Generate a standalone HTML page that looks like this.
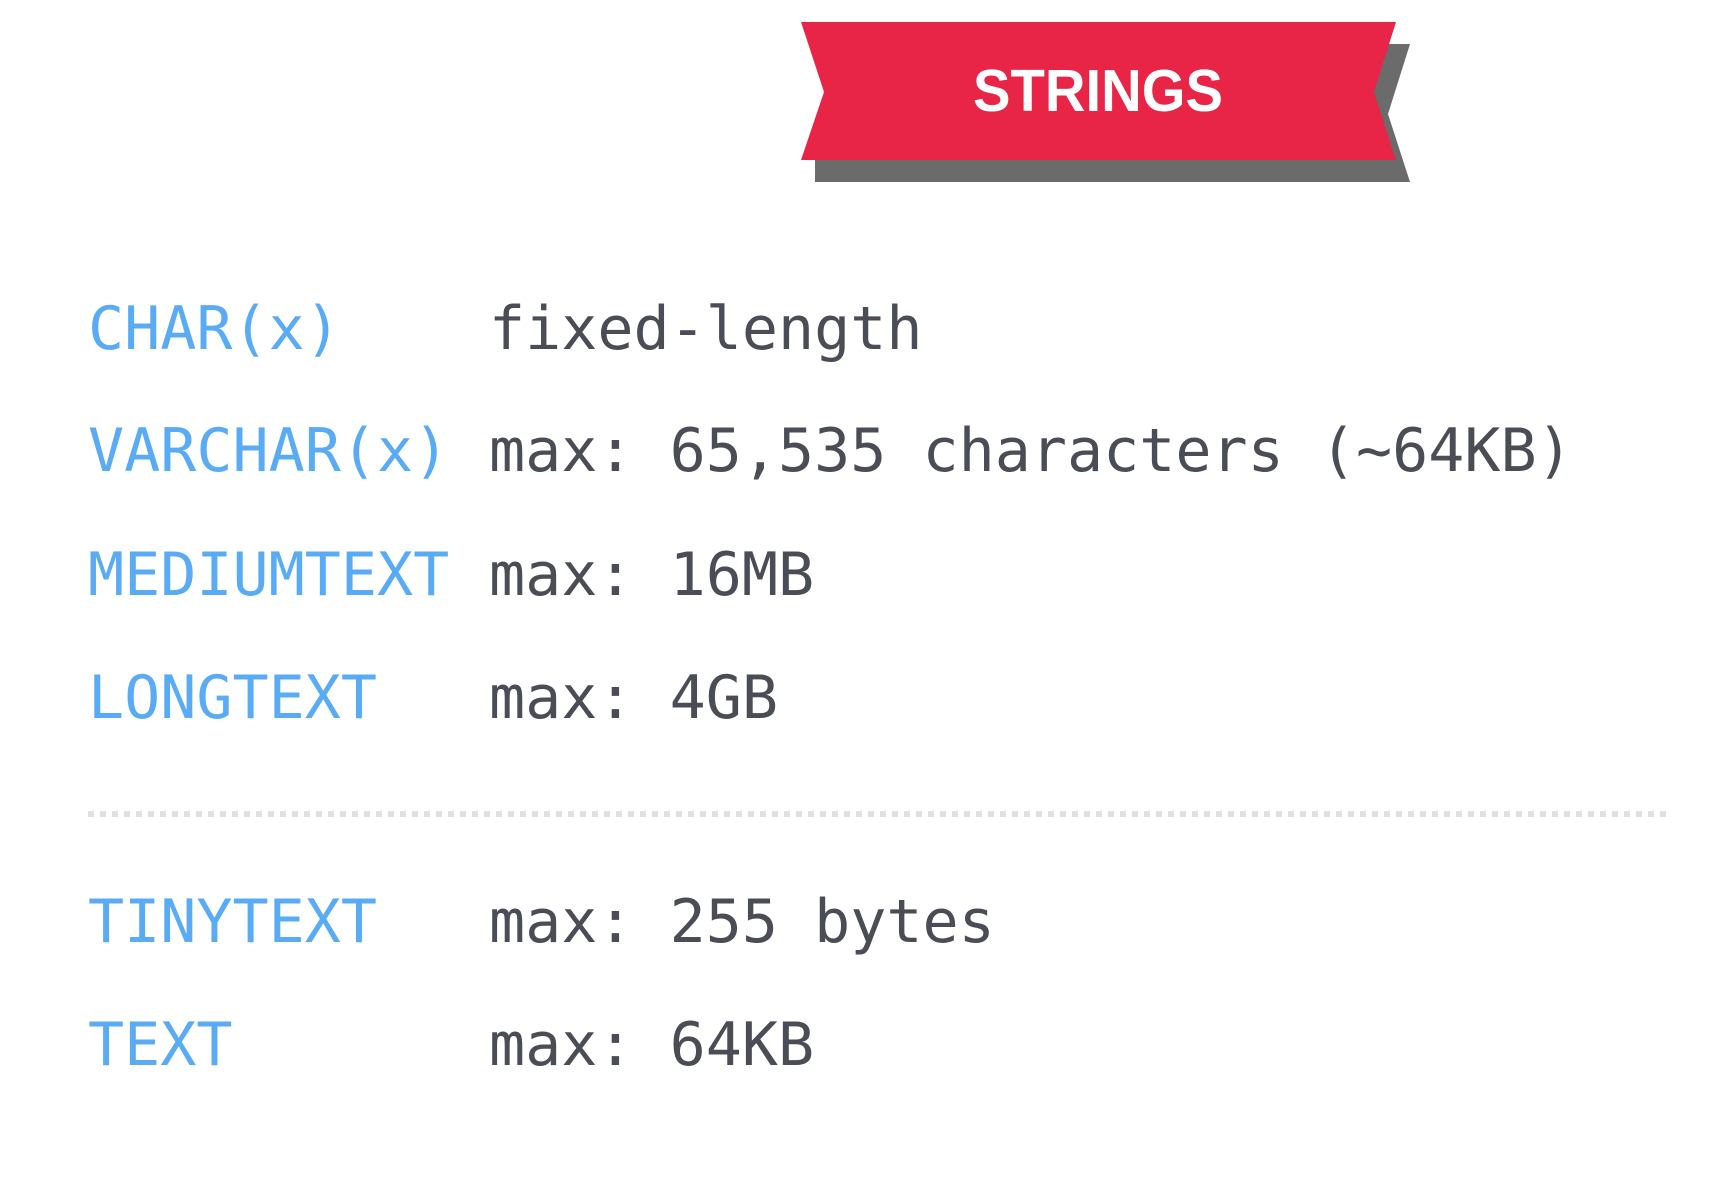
<!DOCTYPE html>
<html><head><meta charset="utf-8"><style>
html,body{margin:0;padding:0;background:#fff;}
svg{display:block}
</style></head><body>
<svg width="1722" height="1188" viewBox="0 0 1722 1188" xmlns="http://www.w3.org/2000/svg">
<polygon points="1380,44 1410,44 1388,114 1410,182 815,182 815,158" fill="#6b6b6b"/>
<polygon points="801,22 1396,22 1374,92 1396,160 801,160 824,92" fill="#e82546"/>
<text x="1098" y="111" text-anchor="middle" font-family="Liberation Sans, sans-serif" font-weight="bold" font-size="59" fill="#fff" textLength="250" lengthAdjust="spacingAndGlyphs">STRINGS</text>
<g font-family="DejaVu Sans Mono, Liberation Mono, monospace" font-size="60">
<g fill="#5aabf5">
<text x="88" y="349">CHAR(x)</text>
<text x="88" y="471">VARCHAR(x)</text>
<text x="88" y="595">MEDIUMTEXT</text>
<text x="88" y="718">LONGTEXT</text>
<text x="88" y="942">TINYTEXT</text>
<text x="88" y="1065">TEXT</text>
</g>
<g fill="#4a4d55">
<text x="489" y="349">fixed-length</text>
<text x="489" y="471">max: 65,535 characters (~64KB)</text>
<text x="489" y="595">max: 16MB</text>
<text x="489" y="718">max: 4GB</text>
<text x="489" y="942">max: 255 bytes</text>
<text x="489" y="1065">max: 64KB</text>
</g>
</g>
<line x1="88" y1="814" x2="1670" y2="814" stroke="#e0e0e0" stroke-width="6" stroke-dasharray="6 6"/>
</svg>
</body></html>
